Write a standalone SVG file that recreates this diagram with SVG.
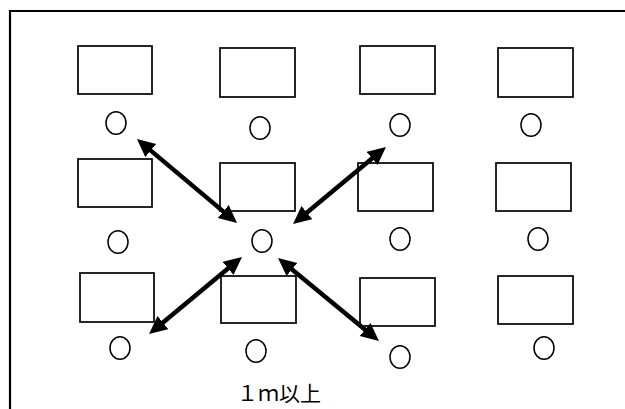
<svg xmlns="http://www.w3.org/2000/svg" width="625" height="409" viewBox="0 0 625 409">
<style>
.desk{fill:#fff;stroke:#000;stroke-width:1.7}
.seat{fill:#fff;stroke:#000;stroke-width:1.5}
.arr{stroke:#000;stroke-width:4.5;fill:none;marker-start:url(#ah);marker-end:url(#ah)}
.frame{stroke:#000;stroke-width:2.2;fill:none}
.lbl{font-family:"Noto Sans CJK JP","Liberation Sans",sans-serif;font-size:21px;fill:#000}
</style>
<defs>
<marker id="ah" markerUnits="userSpaceOnUse" markerWidth="20" markerHeight="20" refX="10" refY="8.5" orient="auto-start-reverse" viewBox="0 0 20 20">
<path d="M0,0 L18,8.5 L0,17 z" fill="#000"/>
</marker>
</defs>
<rect width="625" height="409" fill="#fff"/>
<path class="frame" d="M10,409 V11 H625"/>
<g id="r1c1"><rect class="desk" x="78" y="46" width="74" height="48"/><ellipse class="seat" cx="116" cy="123" rx="10" ry="11.3"/></g>
<g id="r1c2"><rect class="desk" x="220" y="48" width="75" height="49"/><ellipse class="seat" cx="260" cy="128" rx="10" ry="11.3"/></g>
<g id="r1c3"><rect class="desk" x="360" y="46" width="75" height="48"/><ellipse class="seat" cx="400" cy="125" rx="10" ry="11.3"/></g>
<g id="r1c4"><rect class="desk" x="498" y="48" width="75" height="49"/><ellipse class="seat" cx="531" cy="125" rx="10" ry="11.3"/></g>
<g id="r2c1"><rect class="desk" x="78" y="159" width="74" height="48"/><ellipse class="seat" cx="118" cy="242" rx="10" ry="11.3"/></g>
<g id="r2c2"><rect class="desk" x="220" y="163" width="75" height="48"/><ellipse class="seat" cx="262" cy="241" rx="10" ry="11.3"/></g>
<g id="r2c3"><rect class="desk" x="358" y="163" width="75" height="48"/><ellipse class="seat" cx="400" cy="239" rx="10" ry="11.3"/></g>
<g id="r2c4"><rect class="desk" x="496" y="163" width="75" height="48"/><ellipse class="seat" cx="538" cy="239" rx="10" ry="11.3"/></g>
<g id="r3c1"><rect class="desk" x="80" y="273" width="74" height="49"/><ellipse class="seat" cx="120" cy="348" rx="10" ry="11.3"/></g>
<g id="r3c2"><rect class="desk" x="221" y="276" width="75" height="47"/><ellipse class="seat" cx="256" cy="351" rx="10" ry="11.3"/></g>
<g id="r3c3"><rect class="desk" x="360" y="278" width="75" height="48"/><ellipse class="seat" cx="400" cy="357" rx="10" ry="11.3"/></g>
<g id="r3c4"><rect class="desk" x="498" y="276" width="75" height="48"/><ellipse class="seat" cx="544" cy="348" rx="10" ry="11.3"/></g>
<g id="connectors">
<line class="arr" x1="143.1" y1="144.1" x2="230.9" y2="217.9"/>
<line class="arr" x1="299.2" y1="218.9" x2="379.8" y2="152.1"/>
<line class="arr" x1="235.8" y1="262.1" x2="155.2" y2="328.9"/>
<line class="arr" x1="284.2" y1="263.1" x2="372.8" y2="335.9"/>
</g>
<text class="lbl" x="237" y="401">１ｍ以上</text>
</svg>
